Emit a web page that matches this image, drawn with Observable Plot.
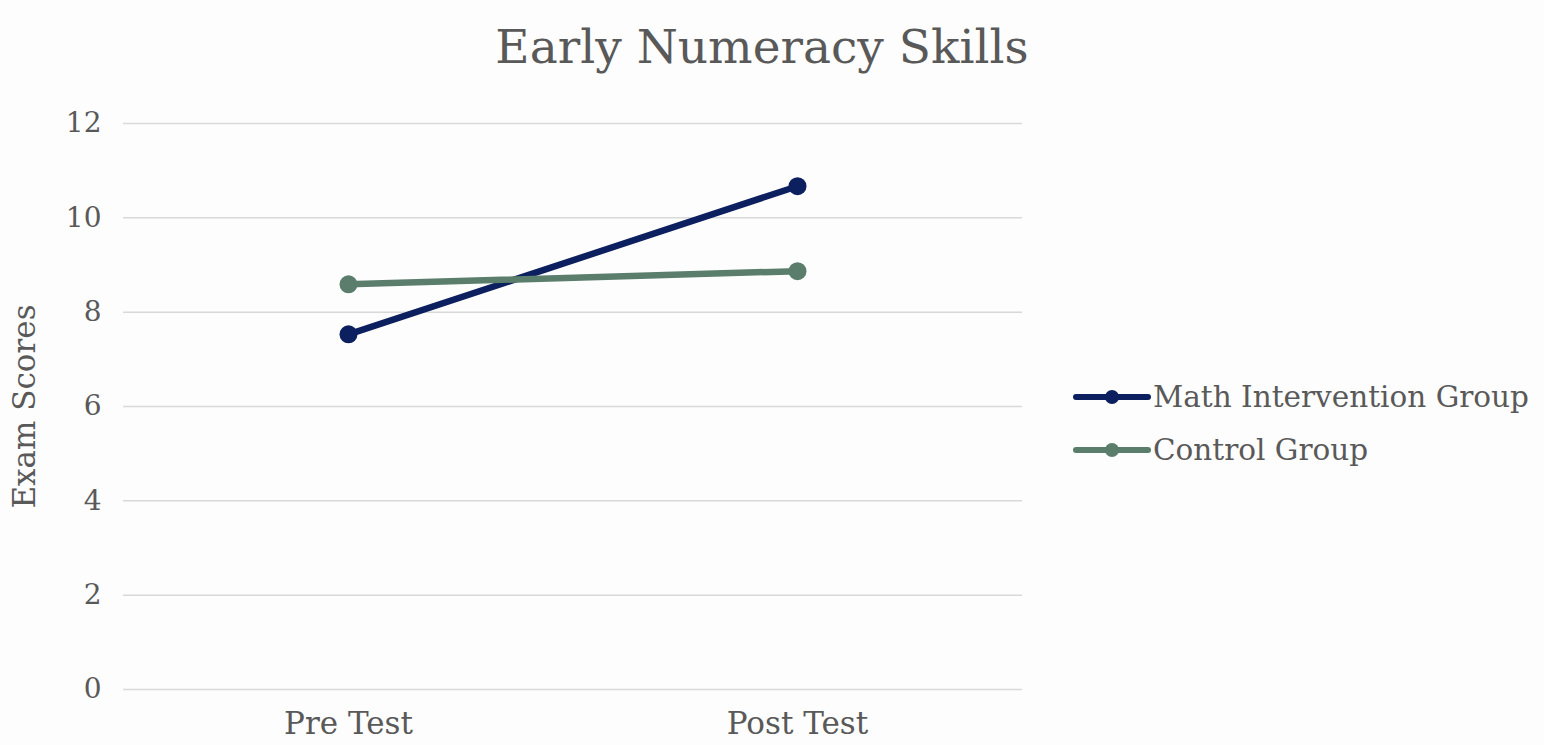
<!DOCTYPE html>
<html>
<head>
<meta charset="utf-8">
<script src="https://cdn.jsdelivr.net/npm/d3@7"></script>
<script src="https://cdn.jsdelivr.net/npm/@observablehq/plot@0.6"></script>
<style>
  html, body { margin: 0; padding: 0; background: #fdfdfd; }
  #wrap { position: relative; width: 1544px; height: 745px; font-family: "DejaVu Serif", serif; color: #595959; overflow: hidden; }
  #title { position: absolute; left: 0; width: 1524px; top: 19px; text-align: center; font-size: 47px; line-height: 56px; color: #595959; }
  #chart { position: absolute; left: 0; top: 90px; }
  #legend { position: absolute; left: 1073px; top: 370px; font-size: 29.5px; }
  .item { display: flex; align-items: center; height: 53px; }
  .item svg { margin-right: 2px; }
</style>
</head>
<body>
<div id="wrap">
  <div id="title">Early Numeracy Skills</div>
  <div id="chart"></div>
  <div id="legend"></div>
</div>
<script>
const categories = ["Pre Test", "Post Test"];
const seriesNames = ["Math Intervention Group", "Control Group"];
const mathScores = [7.53, 10.67];
const controlScores = [8.59, 8.87];
const yTicks = [0, 2, 4, 6, 8, 10, 12];
const yTitle = "Exam Scores";
const seriesColors = ["#0c1f5e", "#5a7d6c"];

const data = [];
[mathScores, controlScores].forEach((vals, si) => {
  vals.forEach((v, ci) => data.push({ series: seriesNames[si], test: categories[ci], score: v }));
});

const plot = Plot.plot({
  width: 1022,
  height: 655,
  marginLeft: 123,
  marginRight: 0,
  marginTop: 33,
  marginBottom: 56,
  style: { fontFamily: "DejaVu Serif, serif", fontSize: "28px", color: "#595959", background: "transparent" },
  x: { type: "point", domain: categories, padding: 0.5, label: null },
  y: { domain: [0, 12], ticks: yTicks, label: null },
  color: { domain: seriesNames, range: seriesColors },
  marks: [
    Plot.ruleY(yTicks, { stroke: "#d9d9d9", strokeWidth: 1.5 }),
    Plot.axisX({ tickSize: 0, tickPadding: 22, fontSize: 31, fill: "#595959", label: null }),
    Plot.axisY({ ticks: yTicks, tickSize: 0, tickPadding: 22, fontSize: 28, fill: "#595959", label: null }),
    Plot.text([yTitle], { frameAnchor: "left", dx: -98, rotate: -90, textAnchor: "middle", fontSize: 31, fill: "#595959" }),
    Plot.line(data, { x: "test", y: "score", z: "series", stroke: "series", strokeWidth: 6.5, strokeLinecap: "round" }),
    Plot.dot(data, { x: "test", y: "score", fill: "series", r: 9 })
  ]
});
document.getElementById("chart").appendChild(plot);

const legend = document.getElementById("legend");
seriesNames.forEach((name, i) => {
  const item = document.createElement("div");
  item.className = "item";
  item.innerHTML = `<svg width="78" height="20"><line x1="3" y1="10" x2="75" y2="10" stroke="${seriesColors[i]}" stroke-width="6" stroke-linecap="round"/><circle cx="39" cy="10" r="7" fill="${seriesColors[i]}"/></svg><span>${name}</span>`;
  legend.appendChild(item);
});
</script>
</body>
</html>
